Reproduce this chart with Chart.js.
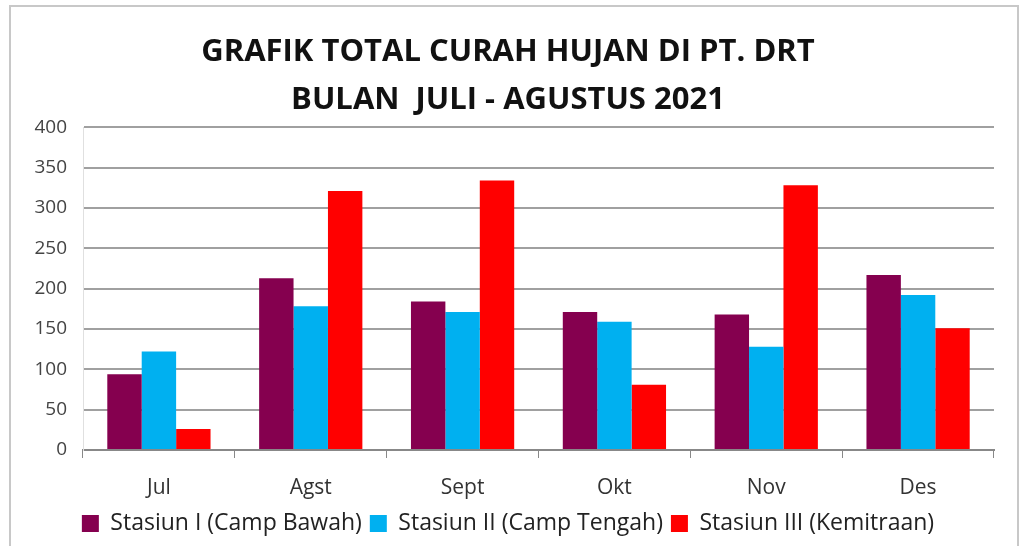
<!DOCTYPE html>
<html>
<head>
<meta charset="utf-8">
<script src="https://cdn.jsdelivr.net/npm/chart.js@4"></script>
<style>
  html, body { margin: 0; padding: 0; background: #fff; }
  #box {
    position: absolute; left: 9px; top: 5px; width: 1010px; height: 545px;
    border: 2px solid #c8c8c8; box-sizing: border-box;
  }
  #wrap { position: absolute; left: 0; top: 0; width: 1032px; height: 546px; }
</style>
</head>
<body>
<div id="box"></div>
<div id="wrap"><canvas id="myChart" width="1032" height="546"></canvas></div>
<script>
/** data */
const bulan = ['Jul', 'Agst', 'Sept', 'Okt', 'Nov', 'Des'];
const stasiun1 = [94, 213, 184, 171, 168, 217];
const stasiun2 = [122, 178, 171, 159, 128, 192];
const stasiun3 = [26, 321, 334, 81, 328, 151];
const judul = ['GRAFIK TOTAL CURAH HUJAN DI PT. DRT', 'BULAN  JULI - AGUSTUS 2021'];

const ctx = document.getElementById('myChart').getContext('2d');
const myChart = new Chart(ctx, {
  type: 'bar',
  data: {
    labels: bulan,
    datasets: [
      {
        label: 'Stasiun I (Camp Bawah)',
        data: stasiun1,
        backgroundColor: '#85004f',
      },
      {
        label: 'Stasiun II (Camp Tengah)',
        data: stasiun2,
        backgroundColor: '#00b0f0',
      },
      {
        label: 'Stasiun III (Kemitraan)',
        data: stasiun3,
        backgroundColor: '#ff0000',
      },
    ],
  },
  options: {
    responsive: false,
    animation: false,
    layout: {
      padding: { left: 22, right: 38, top: 0, bottom: 1 },
    },
    datasets: {
      bar: {
        categoryPercentage: 0.68,
        barPercentage: 1,
      },
    },
    scales: {
      x: {
        afterFit: (scale) => { scale.height = 54; },
        grid: {
          offset: true,
          drawOnChartArea: false,
          drawTicks: true,
          tickLength: 8,
          color: '#888',
        },
        border: { color: '#888', width: 2 },
        ticks: {
          color: '#333',
          font: { family: 'Open Sans', size: 21 },
          padding: 17,
          maxRotation: 0,
        },
      },
      y: {
        min: 0,
        max: 400,
        afterFit: (scale) => { scale.width = 61; },
        ticks: {
          stepSize: 50,
          color: '#444',
          font: { family: 'Open Sans', size: 19 },
          padding: 16,
        },
        grid: {
          color: '#a0a0a0',
          lineWidth: 2,
          drawTicks: false,
        },
        border: { display: true, color: '#e0e0e0', width: 1 },
      },
    },
    plugins: {
      title: {
        display: true,
        text: judul,
        color: '#111',
        font: { family: 'Open Sans', size: 31, weight: 'bold', lineHeight: 1.52 },
        padding: { top: 29, bottom: 4 },
      },
      legend: {
        display: true,
        position: 'bottom',
        labels: {
          color: '#222',
          font: { family: 'Open Sans', size: 23 },
          boxWidth: 17,
          boxHeight: 17,
          padding: 8,
        },
      },
      tooltip: { enabled: false },
    },
  },
});
</script>
</body>
</html>
